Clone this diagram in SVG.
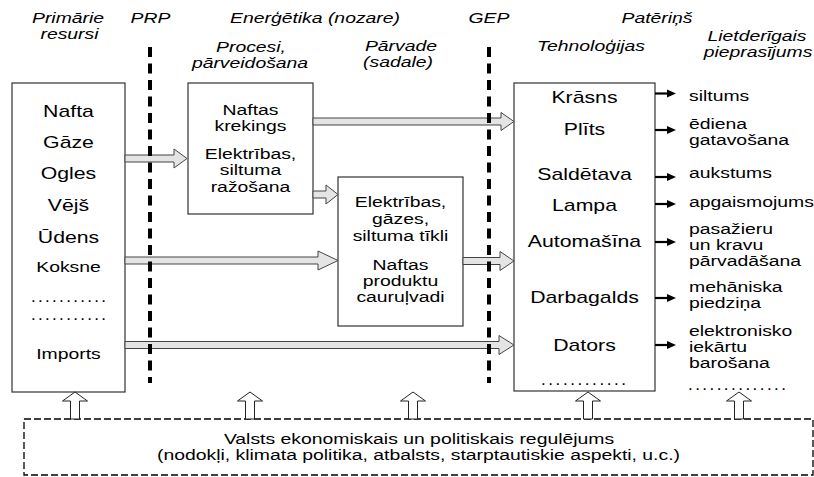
<svg xmlns="http://www.w3.org/2000/svg" width="814" height="477" viewBox="0 0 814 477">
<style>
.t{font-family:"Liberation Sans",Arial,Helvetica,sans-serif;fill:#000}
.h{font-size:15.5px;font-style:italic}
.b{font-size:17px}
.m{font-size:15.5px}
.box{fill:#fff;stroke:#333;stroke-width:1.2}
.flow{fill:#e4e4e4;stroke:#444;stroke-width:1}
.div{stroke:#000;stroke-width:4;stroke-dasharray:10 6.5;fill:none}
.out{stroke:#000;stroke-width:2.2}
.head{fill:#000}
.up{fill:#fff;stroke:#222;stroke-width:1}
.reg{fill:#fff;stroke:#000;stroke-width:1.3;stroke-dasharray:7 3}
</style>
<rect width="814" height="477" fill="#fff"/>

<g id="headers">
<text class="t h" text-anchor="middle" transform="translate(68,22.5) scale(1.25,1)">Primārie</text>
<text class="t h" text-anchor="middle" transform="translate(69.5,38.5) scale(1.25,1)">resursi</text>
<text class="t h" text-anchor="middle" transform="translate(150.5,23) scale(1.25,1)">PRP</text>
<text class="t h" text-anchor="middle" transform="translate(315,23) scale(1.25,1)">Enerģētika (nozare)</text>
<text class="t h" text-anchor="middle" transform="translate(251,52) scale(1.25,1)">Procesi,</text>
<text class="t h" text-anchor="middle" transform="translate(250,68) scale(1.25,1)">pārveidošana</text>
<text class="t h" text-anchor="middle" transform="translate(401,51) scale(1.25,1)">Pārvade</text>
<text class="t h" text-anchor="middle" transform="translate(398,67) scale(1.25,1)">(sadale)</text>
<text class="t h" text-anchor="middle" transform="translate(489,23) scale(1.25,1)">GEP</text>
<text class="t h" text-anchor="middle" transform="translate(657,23) scale(1.25,1)">Patēriņš</text>
<text class="t h" text-anchor="middle" transform="translate(591,50.5) scale(1.25,1)">Tehnoloģijas</text>
<text class="t h" text-anchor="middle" transform="translate(757,41) scale(1.25,1)">Lietderīgais</text>
<text class="t h" text-anchor="middle" transform="translate(758,57) scale(1.25,1)">pieprasījums</text>
</g>

<g id="resources">
<rect class="box" x="12" y="83" width="113" height="309"/>
<text class="t b" text-anchor="middle" transform="translate(68.5,117) scale(1.25,1)">Nafta</text>
<text class="t b" text-anchor="middle" transform="translate(68.5,148) scale(1.25,1)">Gāze</text>
<text class="t b" text-anchor="middle" transform="translate(68.5,179) scale(1.25,1)">Ogles</text>
<text class="t b" text-anchor="middle" transform="translate(68.5,211) scale(1.25,1)">Vējš</text>
<text class="t b" text-anchor="middle" transform="translate(68.5,243) scale(1.25,1)">Ūdens</text>
<text class="t m" text-anchor="middle" transform="translate(68.5,272) scale(1.25,1)">Koksne</text>
<text class="t b" x="31" y="301.5" textLength="75" lengthAdjust="spacing">...........</text>
<text class="t b" x="31" y="319.5" textLength="75" lengthAdjust="spacing">...........</text>
<text class="t m" text-anchor="middle" transform="translate(68.5,359) scale(1.25,1)">Imports</text>
</g>

<g id="processes">
<rect class="box" x="188" y="83" width="125" height="131"/>
<text class="t m" text-anchor="middle" transform="translate(250.5,115) scale(1.25,1)">Naftas</text>
<text class="t m" text-anchor="middle" transform="translate(250.5,131) scale(1.25,1)">krekings</text>
<text class="t m" text-anchor="middle" transform="translate(250.5,159) scale(1.25,1)">Elektrības,</text>
<text class="t m" text-anchor="middle" transform="translate(250.5,175) scale(1.25,1)">siltuma</text>
<text class="t m" text-anchor="middle" transform="translate(250.5,192) scale(1.25,1)">ražošana</text>
</g>

<g id="networks">
<rect class="box" x="338" y="177" width="125" height="149"/>
<text class="t m" text-anchor="middle" transform="translate(400.5,207) scale(1.25,1)">Elektrības,</text>
<text class="t m" text-anchor="middle" transform="translate(400.5,224) scale(1.25,1)">gāzes,</text>
<text class="t m" text-anchor="middle" transform="translate(400.5,241) scale(1.25,1)">siltuma tīkli</text>
<text class="t m" text-anchor="middle" transform="translate(400.5,270) scale(1.25,1)">Naftas</text>
<text class="t m" text-anchor="middle" transform="translate(400.5,286) scale(1.25,1)">produktu</text>
<text class="t m" text-anchor="middle" transform="translate(400.5,302) scale(1.25,1)">cauruļvadi</text>
</g>

<g id="technologies">
<rect class="box" x="514" y="83" width="141" height="308"/>
<text class="t b" text-anchor="middle" transform="translate(584.5,103) scale(1.25,1)">Krāsns</text>
<text class="t b" text-anchor="middle" transform="translate(584.5,135) scale(1.25,1)">Plīts</text>
<text class="t b" text-anchor="middle" transform="translate(584.5,180) scale(1.25,1)">Saldētava</text>
<text class="t b" text-anchor="middle" transform="translate(584.5,211) scale(1.25,1)">Lampa</text>
<text class="t b" text-anchor="middle" transform="translate(584.5,247) scale(1.25,1)">Automašīna</text>
<text class="t b" text-anchor="middle" transform="translate(584.5,303) scale(1.25,1)">Darbagalds</text>
<text class="t b" text-anchor="middle" transform="translate(584.5,351) scale(1.25,1)">Dators</text>
<text class="t b" x="541" y="384.5" textLength="85" lengthAdjust="spacing">............</text>
</g>

<g id="demand">
<text class="t m" transform="translate(689,101) scale(1.25,1)">siltums</text>
<text class="t m" transform="translate(689,129) scale(1.25,1)">ēdiena</text>
<text class="t m" transform="translate(689,145) scale(1.25,1)">gatavošana</text>
<text class="t m" transform="translate(689,178) scale(1.25,1)">aukstums</text>
<text class="t m" transform="translate(689,207) scale(1.25,1)">apgaismojums</text>
<text class="t m" transform="translate(689,234) scale(1.25,1)">pasažieru</text>
<text class="t m" transform="translate(689,250) scale(1.25,1)">un kravu</text>
<text class="t m" transform="translate(689,266) scale(1.25,1)">pārvadāšana</text>
<text class="t m" transform="translate(689,292) scale(1.25,1)">mehāniska</text>
<text class="t m" transform="translate(689,308) scale(1.25,1)">piedziņa</text>
<text class="t m" transform="translate(689,336) scale(1.25,1)">elektronisko</text>
<text class="t m" transform="translate(689,352) scale(1.25,1)">iekārtu</text>
<text class="t m" transform="translate(689,368) scale(1.25,1)">barošana</text>
<text class="t b" x="688" y="389.5" textLength="98" lengthAdjust="spacing">..............</text>
</g>

<g id="regulation">
<rect class="reg" x="24" y="419" width="789" height="56"/>
<text class="t m" text-anchor="middle" transform="translate(419,444) scale(1.25,1)">Valsts ekonomiskais un politiskais regulējums</text>
<text class="t m" text-anchor="middle" transform="translate(418.5,460) scale(1.25,1)">(nodokļi, klimata politika, atbalsts, starptautiskie aspekti, u.c.)</text>
</g>

<g id="connectors">
<path class="flow" d="M125,155 H174 V149 L187,158.5 L174,168 V162 H125 Z"/>
<path class="flow" d="M313,118 H501 V112.5 L514,121.5 L501,130.5 V125 H313 Z"/>
<path class="flow" d="M313,191 H326 V185 L338,194.5 L326,204 V198 H313 Z"/>
<path class="flow" d="M125,257 H318 V251 L338,260.5 L318,270 V264 H125 Z"/>
<path class="flow" d="M463,257.5 H500 V251.5 L514,261 L500,270.5 V264.5 H463 Z"/>
<path class="flow" d="M125,341.5 H499 V335.5 L514,345 L499,354.5 V348.5 H125 Z"/>
<g class="outs">
<line class="out" x1="655" y1="93.5" x2="668" y2="93.5"/><polygon class="head" points="667,89.5 676,93.5 667,97.5"/>
<line class="out" x1="655" y1="130" x2="668" y2="130"/><polygon class="head" points="667,126 676,130 667,134"/>
<line class="out" x1="655" y1="177" x2="668" y2="177"/><polygon class="head" points="667,173 676,177 667,181"/>
<line class="out" x1="655" y1="204" x2="668" y2="204"/><polygon class="head" points="667,200 676,204 667,208"/>
<line class="out" x1="655" y1="242" x2="668" y2="242"/><polygon class="head" points="667,238 676,242 667,246"/>
<line class="out" x1="655" y1="298" x2="668" y2="298"/><polygon class="head" points="667,294 676,298 667,302"/>
<line class="out" x1="655" y1="345" x2="668" y2="345"/><polygon class="head" points="667,341 676,345 667,349"/>
</g>
<g class="ups">
<polygon class="up" points="75,392 87.5,401 79.5,401 79.5,419 70.5,419 70.5,401 62.5,401"/>
<polygon class="up" points="250,392 262.5,401 254.5,401 254.5,419 245.5,419 245.5,401 237.5,401"/>
<polygon class="up" points="413,392 425.5,401 417.5,401 417.5,419 408.5,419 408.5,401 400.5,401"/>
<polygon class="up" points="588,392 600.5,401 592.5,401 592.5,419 583.5,419 583.5,401 575.5,401"/>
<polygon class="up" points="739,392 751.5,401 743.5,401 743.5,419 734.5,419 734.5,401 726.5,401"/>
</g>
</g>

<g id="dividers">
<line class="div" x1="150" y1="47" x2="150" y2="383"/>
<line class="div" x1="489" y1="47" x2="489" y2="383"/>
</g>
</svg>
